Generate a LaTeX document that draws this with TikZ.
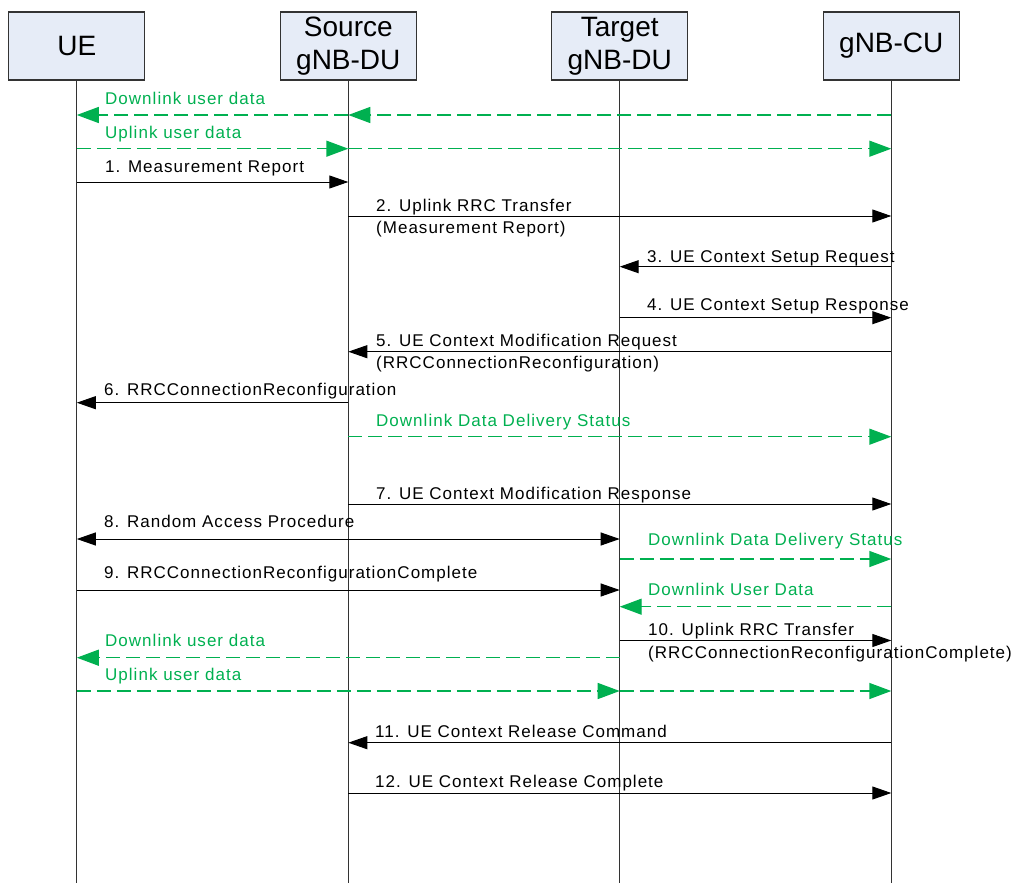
\documentclass[tikz,border=0pt]{standalone}
\usepackage{fontspec}
\setmainfont{Liberation Sans}
\newfontfamily\lblfont[LetterSpace=6]{Liberation Sans}
\usetikzlibrary{arrows.meta}
\definecolor{dgreen}{HTML}{00B050}
\definecolor{boxfill}{HTML}{E6ECF7}
\definecolor{linegray}{HTML}{333333}
\begin{document}
\begin{tikzpicture}[x=1pt,y=-1pt,
  entity/.style={draw=linegray,line width=1.3pt,fill=boxfill,minimum width=136pt,minimum height=68pt,inner sep=0pt,align=center,font=\fontsize{28}{33}\selectfont},
  lifeline/.style={draw=linegray,line width=1pt},
  msg/.style={draw=black,line width=1pt,-{Triangle[length=19pt,width=13pt]}},
  msgboth/.style={draw=black,line width=1pt,{Triangle[length=19pt,width=13pt]}-{Triangle[length=19pt,width=13pt]}},
  gmsg/.style={draw=dgreen,line width=1.4pt,dash pattern=on 14pt off 6pt,-{Triangle[length=22pt,width=16pt]}},
  gline/.style={draw=dgreen,line width=1.4pt,dash pattern=on 14pt off 6pt},
  lbl/.style={anchor=base west,inner sep=0pt,font=\lblfont\fontsize{17}{20}\selectfont},
  glbl/.style={lbl,text=dgreen}]
\useasboundingbox (0,0) rectangle (1015,883);
% entities
\node[entity] (UE)  at (76.8,46)  {UE};
\node[entity] (SRC) at (348.3,46) {Source\\gNB-DU};
\node[entity] (TGT) at (619.7,46) {Target\\gNB-DU};
\node[entity] (CU)  at (891.3,46) {gNB-CU};
% lifelines
\path (UE.south)  ++(0,803) coordinate (UEend);
\path (SRC.south) ++(0,803) coordinate (SRCend);
\path (TGT.south) ++(0,803) coordinate (TGTend);
\path (CU.south)  ++(0,803) coordinate (CUend);
\draw[lifeline] (UE.south)  -- (UEend);
\draw[lifeline] (SRC.south) -- (SRCend);
\draw[lifeline] (TGT.south) -- (TGTend);
\draw[lifeline] (CU.south)  -- (CUend);
% message rows
\coordinate (ya) at (0,115);
\coordinate (yb) at (0,148.7);
\coordinate (y1) at (0,182);
\coordinate (y2) at (0,216);
\coordinate (y3) at (0,266.7);
\coordinate (y4) at (0,317.7);
\coordinate (y5) at (0,351.7);
\coordinate (y6) at (0,402.7);
\coordinate (yc) at (0,436.7);
\coordinate (y7) at (0,504);
\coordinate (y8) at (0,539);
\coordinate (yd) at (0,559);
\coordinate (y9) at (0,590);
\coordinate (ye) at (0,606.7);
\coordinate (y10) at (0,640.5);
\coordinate (yf) at (0,657.7);
\coordinate (yg) at (0,691);
\coordinate (y11) at (0,742.7);
\coordinate (y12) at (0,793);
% downlink / uplink user data (top)
\draw[gmsg] (CU |- ya) -- (SRC |- ya);
\draw[gmsg] (SRC |- ya) -- (UE |- ya);
\node[glbl] (ta) at (105,104) {Downlink user data};
\draw[gmsg] (UE |- yb) -- (SRC |- yb);
\draw[gmsg] (SRC |- yb) -- (CU |- yb);
\node[glbl] (tb) at (105,138) {Uplink user data};
% 1
\draw[msg] (UE |- y1) -- (SRC |- y1);
\node[lbl] (t1) at (105,172.3) {1. Measurement Report};
% 2
\draw[msg] (SRC |- y2) -- (CU |- y2);
\node[lbl] (t2) at (376,211.7) {2. Uplink RRC Transfer};
\node[lbl] (t2b) at (376,233) {(Measurement Report)};
% 3
\draw[msg] (CU |- y3) -- (TGT |- y3);
\node[lbl] (t3) at (647,262.7) {3. UE Context Setup Request};
% 4
\draw[msg] (TGT |- y4) -- (CU |- y4);
\node[lbl] (t4) at (647,310.7) {4. UE Context Setup Response};
% 5
\draw[msg] (CU |- y5) -- (SRC |- y5);
\node[lbl] (t5) at (376,346.7) {5. UE Context Modification Request};
\node[lbl] (t5b) at (376,368) {(RRCConnectionReconfiguration)};
% 6
\draw[msg] (SRC |- y6) -- (UE |- y6);
\node[lbl] (t6) at (104,395) {6. RRCConnectionReconfiguration};
% DDDS 1
\draw[gmsg] (SRC |- yc) -- (CU |- yc);
\node[glbl] (tc) at (376,426) {Downlink Data Delivery Status};
% 7
\draw[msg] (SRC |- y7) -- (CU |- y7);
\node[lbl] (t7) at (376,499) {7. UE Context Modification Response};
% 8
\draw[msgboth] (UE |- y8) -- (TGT |- y8);
\node[lbl] (t8) at (104,527.7) {8. Random Access Procedure};
% DDDS 2
\draw[gmsg] (TGT |- yd) -- (CU |- yd);
\node[glbl] (td) at (648,545) {Downlink Data Delivery Status};
% 9
\draw[msg] (UE |- y9) -- (TGT |- y9);
\node[lbl] (t9) at (104,578) {9. RRCConnectionReconfigurationComplete};
% Downlink User Data
\draw[gmsg] (CU |- ye) -- (TGT |- ye);
\node[glbl] (te) at (648,595.7) {Downlink User Data};
% 10
\draw[msg] (TGT |- y10) -- (CU |- y10);
\node[lbl] (t10) at (648,635.7) {10. Uplink RRC Transfer};
\node[lbl] (t10b) at (648,658) {(RRCConnectionReconfigurationComplete)};
% downlink / uplink user data (bottom)
\draw[gmsg] (TGT |- yf) -- (UE |- yf);
\node[glbl] (tf) at (105,646.7) {Downlink user data};
\draw[gmsg] (UE |- yg) -- (TGT |- yg);
\draw[gmsg] (TGT |- yg) -- (CU |- yg);
\node[glbl] (tg) at (105,680.7) {Uplink user data};
% 11
\draw[msg] (CU |- y11) -- (SRC |- y11);
\node[lbl] (t11) at (375,737.7) {11. UE Context Release Command};
% 12
\draw[msg] (SRC |- y12) -- (CU |- y12);
\node[lbl] (t12) at (375,787.7) {12. UE Context Release Complete};
\end{tikzpicture}
\end{document}
